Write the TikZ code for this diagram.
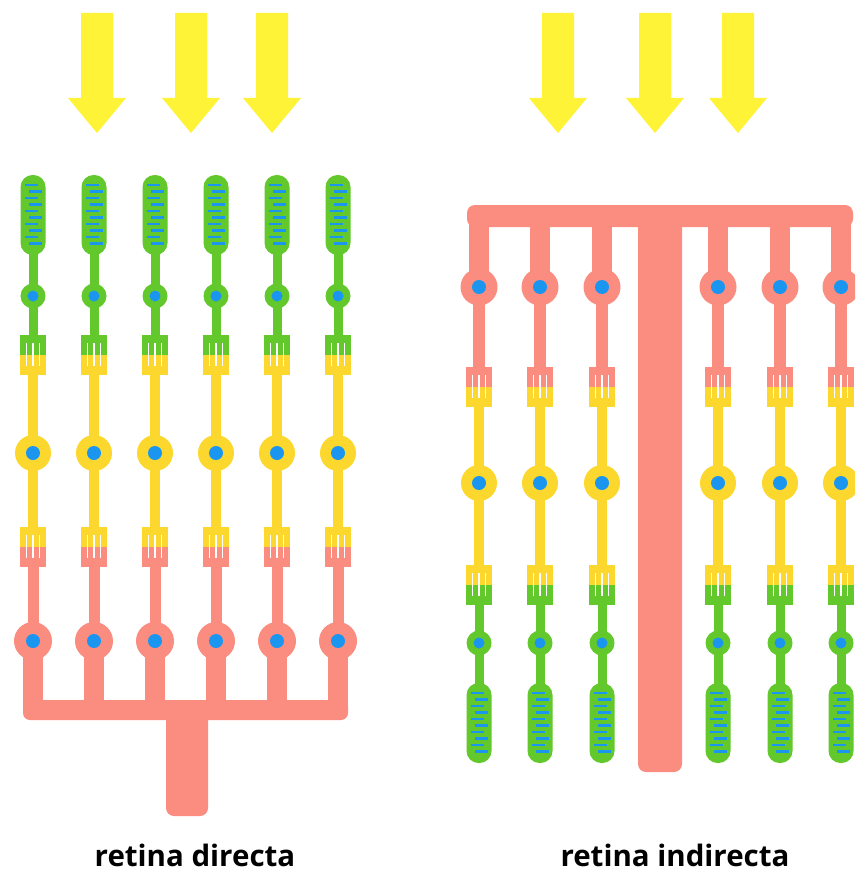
\documentclass[tikz,border=0pt]{standalone}
\usepackage{fontspec}
\setsansfont{Open Sans}

\definecolor{ganglio}{RGB}{250,140,128}
\definecolor{bipolar}{RGB}{252,216,46}
\definecolor{fotorec}{RGB}{98,200,44}
\definecolor{nucleo}{RGB}{26,150,240}
\definecolor{luz}{RGB}{255,243,56}

\tikzset{
  % synaptic contact: upper cell #1, lower cell #2
  pics/sinapsis/.style 2 args={code={
    \fill[#1] (-13,-20) rectangle (13,0);
    \fill[#2] (-13,0) rectangle (13,20);
    \foreach \dx in {-6.5,0,6.5}
      \draw[white, line width=1.3pt] (\dx,-12) -- (\dx,11);
  }},
  % outer segment with its stack of disks
  pics/baston/.style={code={
    \fill[fotorec, rounded corners=12pt] (-12.5,-40) rectangle (12.5,40);
    \foreach \i in {0,...,9}
      \draw[nucleo, line width=2.7pt] ({mod(\i,2)*4-8},{-30+\i*6.5}) -- ++(12.5,0);
  }},
  rotulo/.style={font=\sffamily\bfseries\fontsize{29.5}{35}\selectfont,
    anchor=base, inner sep=0pt},
}

\begin{document}
\begin{tikzpicture}[x=1pt, y=-1pt]
  \useasboundingbox (0,0) rectangle (855,872);
  \fill[white] (0,0) rectangle (855,872);
  \clip (0,0) rectangle (855,872);

  % incoming light
  \foreach \ax in {97,191,272,558,655,738}
    \fill[luz] (\ax-16,13) -- (\ax+16,13) -- (\ax+16,98) -- (\ax+29,98)
      -- (\ax,133) -- (\ax-29,98) -- (\ax-16,98) -- cycle;

  % retina directa
  \fill[ganglio, rounded corners=7pt] (23,700) rectangle (348,720);
  \fill[ganglio, rounded corners=8pt] (166,705) rectangle (208,816);
  \foreach \cx in {33,94,155,216,277,338} {
    \fill[ganglio] (\cx-10,641) rectangle (\cx+10,712);
    \fill[ganglio] (\cx-5.5,560) rectangle (\cx+5.5,641);
    \fill[bipolar] (\cx-5,370) rectangle (\cx+5,530);
    \fill[fotorec] (\cx-4.5,240) rectangle (\cx+4.5,340);
    \pic at (\cx,215) {baston};
    \pic at (\cx,355) {sinapsis={fotorec}{bipolar}};
    \pic at (\cx,547) {sinapsis={bipolar}{ganglio}};
    \fill[fotorec] (\cx,296) circle (12.5);
    \fill[bipolar] (\cx,453) circle (18);
    \fill[ganglio] (\cx,641) circle (19);
    \fill[nucleo] (\cx,296) circle (5.5);
    \fill[nucleo] (\cx,453) circle (7);
    \fill[nucleo] (\cx,641) circle (7);
  }

  % retina indirecta
  \fill[ganglio, rounded corners=8pt] (467,205) rectangle (853,227);
  \fill[ganglio, rounded corners=8pt] (638,212) rectangle (682,772);
  \foreach \cx in {479,540,602,718,780,841} {
    \fill[ganglio] (\cx-10,215) rectangle (\cx+10,290);
    \fill[ganglio] (\cx-6,287) rectangle (\cx+6,375);
    \fill[bipolar] (\cx-5,400) rectangle (\cx+5,570);
    \fill[fotorec] (\cx-4.5,600) rectangle (\cx+4.5,700);
    \pic at (\cx,387) {sinapsis={ganglio}{bipolar}};
    \pic at (\cx,585) {sinapsis={bipolar}{fotorec}};
    \pic at (\cx,723) {baston};
    \fill[ganglio] (\cx,287) circle (18.5);
    \fill[bipolar] (\cx,483) circle (18);
    \fill[fotorec] (\cx,643) circle (12.5);
    \fill[nucleo] (\cx,287) circle (7);
    \fill[nucleo] (\cx,483) circle (7);
    \fill[nucleo] (\cx,643) circle (5.5);
  }

  \node[rotulo] (directa) at (195,866) {retina directa};
  \node[rotulo] (indirecta) at (675,866) {retina indirecta};
\end{tikzpicture}
\end{document}
